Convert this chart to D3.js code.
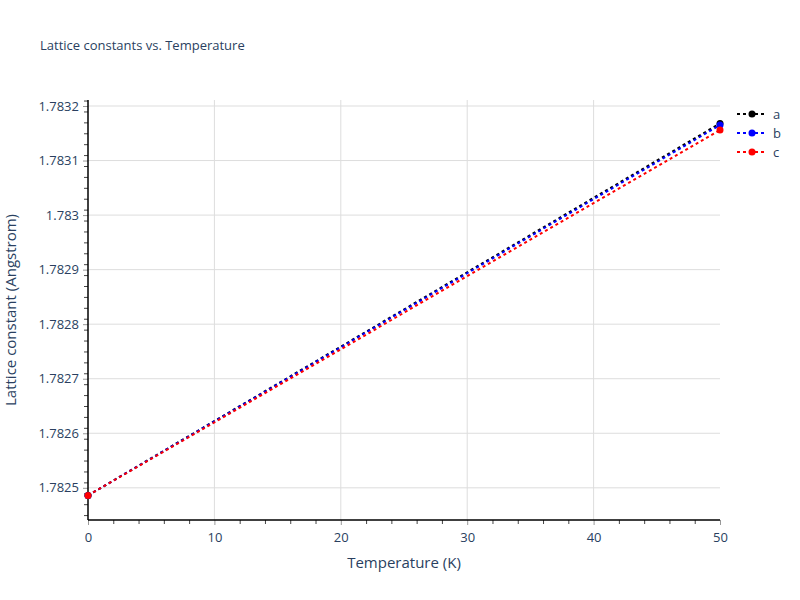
<!DOCTYPE html>
<html>
<head>
<meta charset="utf-8">
<script src="https://cdn.jsdelivr.net/npm/d3@7"></script>
<style>
  body { margin: 0; background: #fff; }
  svg text { font-family: "Open Sans", verdana, arial, sans-serif; fill: #2a3f5f; }
</style>
</head>
<body>
<svg></svg>
<script>
var width = 800, height = 600;
var plotLeft = 88, plotRight = 720, plotTop = 100, plotBottom = 520;

// data
var temps = [0, 50];
var series_a = [1.782486, 1.783168];
var series_b = [1.782486, 1.783165];
var series_c = [1.782486, 1.783156];
var seriesNames = ["a", "b", "c"];
var seriesColors = ["black", "blue", "red"];
var xTicks = [0, 10, 20, 30, 40, 50];
var yTicks = [1.7825, 1.7826, 1.7827, 1.7828, 1.7829, 1.783, 1.7831, 1.7832];

var series = [series_a, series_b, series_c];

var svg = d3.select("svg").attr("width", width).attr("height", height);

var x = d3.scaleLinear().domain([0, 50]).range([plotLeft, plotRight]);
var y = d3.scaleLinear().domain([1.782441, 1.783211]).range([plotBottom, plotTop]);

// grid
svg.append("g").selectAll("line").data(xTicks.filter(d => d > 0 && d < 50)).enter()
  .append("line")
  .attr("x1", d => x(d)).attr("x2", d => x(d))
  .attr("y1", plotTop).attr("y2", plotBottom)
  .attr("stroke", "#ddd").attr("stroke-width", 1);
svg.append("g").selectAll("line").data(yTicks).enter()
  .append("line")
  .attr("x1", plotLeft).attr("x2", plotRight)
  .attr("y1", d => y(d)).attr("y2", d => y(d))
  .attr("stroke", "#ddd").attr("stroke-width", 1);

// minor ticks
var xMinor = d3.range(0, 51, 2).filter(d => d % 10 != 0);
var yMinor = d3.range(0, 39).map(i => 1.78245 + i * 0.00002)
  .filter(d => Math.round(d * 1e5) % 10 != 0 && y(d) >= plotTop && y(d) <= plotBottom);

var xAxisG = svg.append("g").attr("transform", "translate(0," + plotBottom + ")");
xAxisG.call(d3.axisBottom(x).tickValues(xMinor).tickSize(4).tickFormat(""));
xAxisG.select(".domain").remove();
xAxisG.selectAll("line").attr("stroke", "#444");

var xMajor = svg.append("g").attr("transform", "translate(0," + plotBottom + ")")
  .call(d3.axisBottom(x).tickValues(xTicks).tickSize(5).tickPadding(8).tickFormat(d3.format("d")));
xMajor.select(".domain").remove();
xMajor.selectAll("line").attr("stroke", "#999");
xMajor.selectAll("text").attr("font-size", 13).style("fill", "#2a3f5f");

var yAxisG = svg.append("g").attr("transform", "translate(" + plotLeft + ",0)");
yAxisG.call(d3.axisLeft(y).tickValues(yMinor).tickSize(4).tickFormat(""));
yAxisG.select(".domain").remove();
yAxisG.selectAll("line").attr("stroke", "#444");

var yMajor = svg.append("g").attr("transform", "translate(" + plotLeft + ",0)")
  .call(d3.axisLeft(y).tickValues(yTicks).tickSize(5).tickPadding(4).tickFormat(d => +d.toFixed(4) + ""));
yMajor.select(".domain").remove();
yMajor.selectAll("line").attr("stroke", "#999");
yMajor.selectAll("text").attr("font-size", 13).style("fill", "#2a3f5f");

// axis lines
svg.append("line").attr("x1", plotLeft).attr("x2", plotRight).attr("y1", plotBottom).attr("y2", plotBottom)
  .attr("stroke", "black").attr("stroke-width", 1.5);
svg.append("line").attr("x1", plotLeft).attr("x2", plotLeft).attr("y1", plotTop).attr("y2", plotBottom)
  .attr("stroke", "black").attr("stroke-width", 1.5);

// series
var line = d3.line().x(d => x(d[0])).y(d => y(d[1]));
series.forEach(function(s, k) {
  var pts = temps.map((t, i) => [t, s[i]]);
  var g = svg.append("g");
  g.append("path").datum(pts)
    .attr("d", line)
    .attr("fill", "none")
    .attr("stroke", seriesColors[k])
    .attr("stroke-width", 2)
    .attr("stroke-dasharray", "3,3");
  g.selectAll("circle").data(pts).enter()
    .append("circle")
    .attr("cx", d => x(d[0])).attr("cy", d => y(d[1]))
    .attr("r", 3.5)
    .attr("fill", seriesColors[k]);
});

// title and axis titles
svg.append("text").attr("x", 40).attr("y", 50).attr("font-size", 13)
  .text("Lattice constants vs. Temperature");
svg.append("text").attr("x", 404).attr("y", 568).attr("font-size", 15)
  .attr("text-anchor", "middle").text("Temperature (K)");
svg.append("text").attr("transform", "translate(16," + ((plotTop + plotBottom) / 2) + ") rotate(-90)")
  .attr("font-size", 15).attr("text-anchor", "middle").text("Lattice constant (Angstrom)");

// legend
var legend = svg.append("g").selectAll("g").data(seriesNames).enter()
  .append("g").attr("transform", (d, i) => "translate(737," + (114 + i * 19) + ")");
legend.append("line").attr("x1", 0).attr("x2", 30).attr("y1", 0).attr("y2", 0)
  .attr("stroke", (d, i) => seriesColors[i]).attr("stroke-width", 2).attr("stroke-dasharray", "3,3");
legend.append("circle").attr("cx", 15).attr("cy", 0).attr("r", 3.5)
  .attr("fill", (d, i) => seriesColors[i]);
legend.append("text").attr("x", 36).attr("y", 4.5).attr("font-size", 13).text(d => d);
</script>
</body>
</html>
